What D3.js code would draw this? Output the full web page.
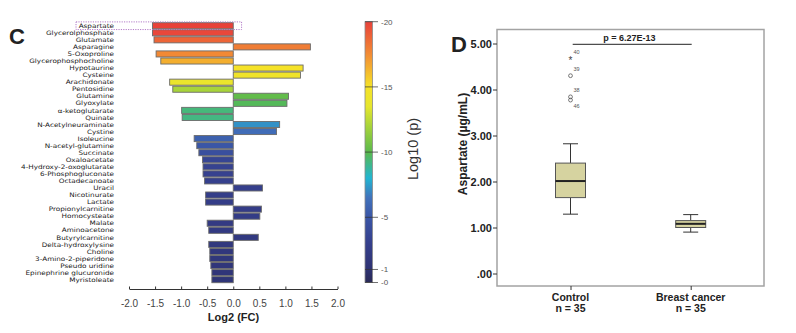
<!DOCTYPE html>
<html><head><meta charset="utf-8">
<script src="https://cdn.jsdelivr.net/npm/d3@7"></script>
<style>body{margin:0;background:#fff}svg{display:block}</style>
</head><body><svg id="c" width="796" height="333"></svg>
<script>
// ---------- Panel C data ----------
const metabolites = ["Aspartate","Glycerolphosphate","Glutamate","Asparagine","5-Oxoproline","Glycerophosphocholine","Hypotaurine","Cysteine","Arachidonate","Pentosidine","Glutamine","Glyoxylate","α-ketoglutarate","Quinate","N-Acetylneuraminate","Cystine","Isoleucine","N-acetyl-glutamine","Succinate","Oxaloacetate","4-Hydroxy-2-oxoglutarate","6-Phosphogluconate","Octadecanoate","Uracil","Nicotinurate","Lactate","Propionylcarnitine","Homocysteate","Malate","Aminoacetone","Butyrylcarnitine","Delta-hydroxylysine","Choline","3-Amino-2-piperidone","Pseudo uridine","Epinephrine glucuronide","Myristoleate"];
const log2FC = [-1.55,-1.55,-1.52,1.48,-1.48,-1.39,1.34,1.29,-1.22,-1.16,1.06,1.03,-0.99,-0.98,0.89,0.83,-0.75,-0.70,-0.66,-0.59,-0.58,-0.58,-0.55,0.56,-0.53,-0.53,0.54,0.51,-0.50,-0.47,0.48,-0.47,-0.45,-0.45,-0.43,-0.41,-0.41];
const log10P = [-20,-19.8,-18.8,-18,-17.6,-16.5,-15,-14.5,-14,-12,-10.2,-9.8,-9.3,-9.2,-7.2,-6.2,-5.6,-5.0,-4.4,-3.5,-3.3,-3.2,-3.1,-3.0,-2.8,-2.7,-2.6,-2.5,-2.3,-2.2,-2.1,-1.9,-1.8,-1.7,-1.6,-1.5,-1.4];
const fcTicks = [-2.0,-1.5,-1.0,-0.5,0.0,0.5,1.0,1.5,2.0];
const pTicks = [-20,-15,-10,-5,-1,0];
const pTickLabels = ["-20","-15","-10","-5","-1","-0"];
const colorStops = [0,-1,-3,-5,-6.5,-8,-10,-12,-13.5,-15,-17.5,-20];
const colorRange = ["#2a2a56","#2e3272","#353f8c","#3a56a6","#4272bb","#22b5d2","#5ab94c","#a8d43a","#e6e62e","#f5e228","#f28c34","#e8413a"];

// ---------- Panel D data ----------
const groups = ["Control","Breast cancer"];
const groupN = ["n = 35","n = 35"];
const q1 = [1.65,1.00];
const median = [2.01,1.08];
const q3 = [2.40,1.15];
const whiskLo = [1.29,0.90];
const whiskHi = [2.82,1.28];
const outlierVals = [4.68,4.30,3.84,3.77];
const outlierIds = ["40","39","38","46"];
const outlierShape = ["star","circle","circle","circle"];
const outlierLabelBelow = [false,false,false,true];
const yTicks = [0,1,2,3,4,5];
const yTickLabels = [".00","1.00","2.00","3.00","4.00","5.00"];
const pText = "p = 6.27E-13";

const svg = d3.select("#c");
const color = d3.scaleLinear().domain(colorStops).range(colorRange).clamp(true);
const FONT = "Liberation Sans, Arial, sans-serif";

// ===== Panel C =====
const x = d3.scaleLinear().domain([-2,2]).range([129,337.5]);
const y = d3.scaleBand().domain(metabolites).range([22.2,283.2]).paddingInner(0.14).paddingOuter(0.07);

svg.append("text").attr("x",9).attr("y",44).attr("font-family",FONT)
  .attr("font-weight","bold").attr("font-size",22).attr("fill","#222").text("C");

const gC = svg.append("g");
gC.selectAll("rect.bar").data(metabolites).join("rect").attr("class","bar")
  .attr("x",(d,i)=>Math.min(x(0),x(log2FC[i])))
  .attr("width",(d,i)=>Math.abs(x(log2FC[i])-x(0)))
  .attr("y",d=>y(d)).attr("height",y.bandwidth())
  .attr("fill",(d,i)=>color(log10P[i])).attr("stroke","#6b6b6b").attr("stroke-width",0.9);

const sx = 1.2;
const gLab = svg.append("g").attr("transform",`scale(${sx},1)`);
gLab.selectAll("text.lab").data(metabolites).join("text").attr("class","lab")
  .attr("x",114/sx).attr("y",d=>y(d)+y.bandwidth()/2).attr("dy","0.36em")
  .attr("text-anchor","end").attr("font-family","DejaVu Sans, sans-serif")
  .attr("font-size",6.05).attr("fill","#222").text(d=>d);

// dotted highlight box
gC.append("rect").attr("x",76).attr("y",y("Aspartate")-0.8).attr("width",x(0.16)-76).attr("height",y.bandwidth()+1.6)
  .attr("fill","none").attr("stroke","#b27cc8").attr("stroke-width",1).attr("stroke-dasharray","1.2,1.2");

// x axis
const xAxis = d3.axisBottom(x).tickValues(fcTicks).tickSize(0).tickFormat(d3.format(".1f"));
const gx = svg.append("g").attr("transform","translate(0,289)").call(xAxis);
gx.select(".domain").attr("stroke","#333").attr("stroke-width",1.2);
gx.selectAll(".tick text").attr("font-family",FONT).attr("font-size",10)
  .attr("fill","#444").attr("y",11).text(d=>d3.format(".1f")(d).replace("−","-"));
gx.selectAll(".tick").append("line").attr("y1",0).attr("y2",-2.5).attr("stroke","#333");
svg.append("text").attr("x",233.5).attr("y",321).attr("text-anchor","middle")
  .attr("font-family",FONT).attr("font-weight","bold").attr("font-size",11)
  .attr("fill","#222").text("Log2 (FC)");

// colorbar
const cbY = d3.scaleLinear().domain([-20,0]).range([21.7,282.5]);
const defs = svg.append("defs");
const grad = defs.append("linearGradient").attr("id","cb").attr("x1",0).attr("y1",0).attr("x2",0).attr("y2",1);
d3.range(0,41).forEach(k=>{
  const v = -20 + k*0.5;
  grad.append("stop").attr("offset",(k/40)).attr("stop-color",color(v));
});
svg.append("rect").attr("x",365).attr("y",cbY(-20)).attr("width",7.5).attr("height",cbY(0)-cbY(-20))
  .attr("fill","url(#cb)").attr("stroke","#8a8a8a").attr("stroke-width",0.8);
const gcb = svg.append("g");
gcb.selectAll("line").data(pTicks).join("line").attr("x1",365).attr("x2",378)
  .attr("y1",d=>cbY(d)).attr("y2",d=>cbY(d)).attr("stroke","#333").attr("stroke-width",0.7);
gcb.selectAll("text").data(pTicks).join("text").attr("x",381).attr("y",d=>cbY(d)).attr("dy","0.35em")
  .attr("font-family",FONT).attr("font-size",8).attr("fill","#555")
  .text((d,i)=>pTickLabels[i]);
svg.append("text").attr("transform","translate(418,149) rotate(-90)").attr("text-anchor","middle")
  .attr("font-family",FONT).attr("font-size",14.5).attr("fill","#333").text("Log10 (p)");

// ===== Panel D =====
const yD = d3.scaleLinear().domain([0,5]).range([273.5,43.5]);
const xD = d3.scalePoint().domain(groups).range([570.5,690.7]);
const bw = 30;

svg.append("text").attr("x",451).attr("y",52).attr("font-family",FONT)
  .attr("font-weight","bold").attr("font-size",22).attr("fill","#222").text("D");

svg.append("rect").attr("x",497).attr("y",29.5).attr("width",267).attr("height",256.5)
  .attr("fill","none").attr("stroke","#a3a3a3").attr("stroke-width",1.5);

const yAx = d3.axisLeft(yD).tickValues(yTicks).tickSize(4).tickPadding(1).tickFormat(d=>yTickLabels[yTicks.indexOf(d)]);
const gy = svg.append("g").attr("transform","translate(497,0)").call(yAx);
gy.select(".domain").remove();
gy.selectAll(".tick line").attr("stroke","#333");
gy.selectAll(".tick text").attr("font-family",FONT).attr("font-weight","bold")
  .attr("font-size",11).attr("fill","#222");

svg.append("text").attr("transform","translate(467,144) rotate(-90)").attr("text-anchor","middle")
  .attr("font-family",FONT).attr("font-weight","bold").attr("font-size",12)
  .attr("fill","#222").text("Aspartate (µg/mL)");

const gxD = svg.append("g").attr("transform","translate(0,286)").call(d3.axisBottom(xD).tickSize(4).tickFormat(""));
gxD.select(".domain").remove();
gxD.selectAll(".tick line").attr("stroke","#333");
groups.forEach((g,i)=>{
  svg.append("text").attr("x",xD(g)).attr("y",300.5).attr("text-anchor","middle")
    .attr("font-family",FONT).attr("font-weight","bold").attr("font-size",10.5)
    .attr("fill","#222").text(g);
  svg.append("text").attr("x",xD(g)).attr("y",311.5).attr("text-anchor","middle")
    .attr("font-family",FONT).attr("font-weight","bold").attr("font-size",10.5)
    .attr("fill","#222").text(groupN[i]);
});

const gb = svg.append("g");
groups.forEach((g,i)=>{
  const cx = xD(g);
  gb.append("line").attr("x1",cx).attr("x2",cx).attr("y1",yD(whiskHi[i])).attr("y2",yD(q3[i])).attr("stroke","#333");
  gb.append("line").attr("x1",cx).attr("x2",cx).attr("y1",yD(q1[i])).attr("y2",yD(whiskLo[i])).attr("stroke","#333");
  gb.append("line").attr("x1",cx-bw/4).attr("x2",cx+bw/4).attr("y1",yD(whiskHi[i])).attr("y2",yD(whiskHi[i])).attr("stroke","#333");
  gb.append("line").attr("x1",cx-bw/4).attr("x2",cx+bw/4).attr("y1",yD(whiskLo[i])).attr("y2",yD(whiskLo[i])).attr("stroke","#333");
  gb.append("rect").attr("x",cx-bw/2).attr("width",bw).attr("y",yD(q3[i])).attr("height",yD(q1[i])-yD(q3[i]))
    .attr("fill","#d6d3a0").attr("stroke","#555").attr("stroke-width",1);
  gb.append("line").attr("x1",cx-bw/2).attr("x2",cx+bw/2).attr("y1",yD(median[i])).attr("y2",yD(median[i]))
    .attr("stroke","#222").attr("stroke-width",2);
});

// outliers (Control)
const ox = xD("Control");
outlierVals.forEach((v,i)=>{
  if(outlierShape[i]==="star"){
    gb.append("text").attr("x",ox).attr("y",yD(v)).attr("dy","0.55em").attr("text-anchor","middle")
      .attr("font-family",FONT).attr("font-size",10).attr("fill","#444").text("*");
  } else {
    gb.append("circle").attr("cx",ox).attr("cy",yD(v)).attr("r",1.9).attr("fill","none").attr("stroke","#555").attr("stroke-width",0.8);
  }
  gb.append("text").attr("x",ox+3).attr("y",outlierLabelBelow[i] ? yD(v)+8 : yD(v)-4.5).attr("font-family",FONT)
    .attr("font-size",5.5).attr("fill","#555").text(outlierIds[i]);
});

// significance bar
svg.append("line").attr("x1",572.7).attr("x2",691.7).attr("y1",44.3).attr("y2",44.3).attr("stroke","#222").attr("stroke-width",1);
svg.append("text").attr("x",629.5).attr("y",41).attr("text-anchor","middle")
  .attr("font-family",FONT).attr("font-weight","bold").attr("font-size",9)
  .attr("fill","#222").text(pText);
</script></body></html>
